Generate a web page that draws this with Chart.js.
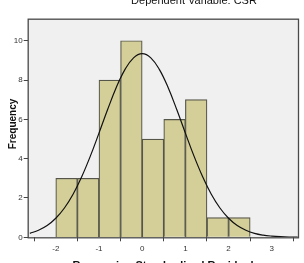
<!DOCTYPE html>
<html>
<head>
<meta charset="utf-8">
<script src="https://cdn.jsdelivr.net/npm/chart.js@4/dist/chart.umd.min.js"></script>
<style>
  html, body { margin: 0; padding: 0; background: #fff; }
  #wrap { width: 304px; height: 263px; }
</style>
</head>
<body>
<div id="wrap"><canvas id="histChart"></canvas></div>
<script>
// histogram bins (width 0.5) and counts
const binCenters = [-1.75, -1.25, -0.75, -0.25, 0.25, 0.75, 1.25, 1.75, 2.25];
const binCounts = [3, 3, 8, 10, 5, 6, 7, 1, 1];

// normal curve
const curveX = [-2.6, -2.4, -2.2, -2.0, -1.8, -1.6, -1.4, -1.2, -1.0, -0.8, -0.6, -0.4, -0.2, 0,
    0.2, 0.4, 0.6, 0.8, 1.0, 1.2, 1.4, 1.6, 1.8, 2.0, 2.2, 2.4, 2.6, 2.8, 3.0, 3.2, 3.4, 3.6];
const curveY = [0.20, 0.36, 0.60, 0.97, 1.49, 2.19, 3.08, 4.13, 5.30, 6.50, 7.62, 8.53, 9.13, 9.34,
    9.13, 8.53, 7.62, 6.50, 5.30, 4.13, 3.08, 2.19, 1.49, 0.97, 0.60, 0.36, 0.20, 0.11, 0.06, 0.03, 0.013, 0.006];

const xTicks = [-2, -1, 0, 1, 2, 3];
const yTicks = [0, 2, 4, 6, 8, 10];

const chartTitle = 'Dependent Variable: CSR';
const xTitle = 'Regression Standardized Residual';
const yTitle = 'Frequency';

const FONT = '"Liberation Sans", Arial, sans-serif';

const frame = {
    id: 'frame',
    beforeDraw(chart) {
        const { ctx, chartArea: a } = chart;
        ctx.save();
        ctx.fillStyle = '#f0f0f0';
        ctx.fillRect(a.left, a.top, a.right - a.left, a.bottom - a.top);
        ctx.restore();
    },
    afterDraw(chart) {
        const { ctx, chartArea: a } = chart;
        ctx.save();
        ctx.strokeStyle = '#4a4a4a';
        ctx.lineWidth = 1.3;
        ctx.strokeRect(a.left + 0.5, a.top + 0.5, a.right - a.left - 1, a.bottom - a.top);
        ctx.fillStyle = '#111';
        ctx.textAlign = 'center';
        ctx.textBaseline = 'alphabetic';
        ctx.font = '11px ' + FONT;
        ctx.fillText(chartTitle, 194, 4);
        ctx.font = 'bold 11px ' + FONT;
        ctx.fillText(xTitle, 163, 269);
        ctx.translate(13, 124);
        ctx.rotate(-Math.PI / 2);
        ctx.textBaseline = 'middle';
        ctx.font = 'bold 10px ' + FONT;
        ctx.fillText(yTitle, 0, 0);
        ctx.restore();
    }
};

new Chart(document.getElementById('histChart'), {
    type: 'bar',
    data: {
        datasets: [{
            type: 'line',
            data: curveX.map((x, i) => ({ x: x, y: curveY[i] })),
            borderColor: '#111',
            borderWidth: 1.2,
            pointRadius: 0,
            tension: 0.4,
            fill: false,
            order: 0
        }, {
            data: binCenters.map((x, i) => ({ x: x, y: binCounts[i] })),
            backgroundColor: '#d4cf98',
            borderColor: '#55554a',
            borderWidth: 1.2,
            barPercentage: 1,
            categoryPercentage: 1,
            order: 1
        }]
    },
    options: {
        responsive: true,
        maintainAspectRatio: false,
        animation: false,
        layout: { padding: { top: 18.7, right: 5, left: 0, bottom: 0 } },
        plugins: { legend: { display: false }, tooltip: { enabled: false } },
        scales: {
            x: {
                type: 'linear',
                min: -2.65,
                max: 3.63,
                offset: false,
                afterBuildTicks: s => { s.ticks = xTicks.map(v => ({ value: v })); },
                afterFit: s => { s.height = 25.7; },
                grid: { drawOnChartArea: false, tickLength: 4, color: '#444' },
                border: { display: false },
                ticks: { color: '#333', font: { size: 8, family: FONT }, padding: 3, maxRotation: 0 }
            },
            y: {
                min: 0,
                max: 11.12,
                afterBuildTicks: s => { s.ticks = yTicks.map(v => ({ value: v })); },
                afterFit: s => { s.width = 27.7; },
                grid: { drawOnChartArea: false, tickLength: 4, color: '#444' },
                border: { display: false },
                ticks: { color: '#333', font: { size: 8, family: FONT }, padding: 1 }
            }
        }
    },
    plugins: [frame]
});
</script>
</body>
</html>
